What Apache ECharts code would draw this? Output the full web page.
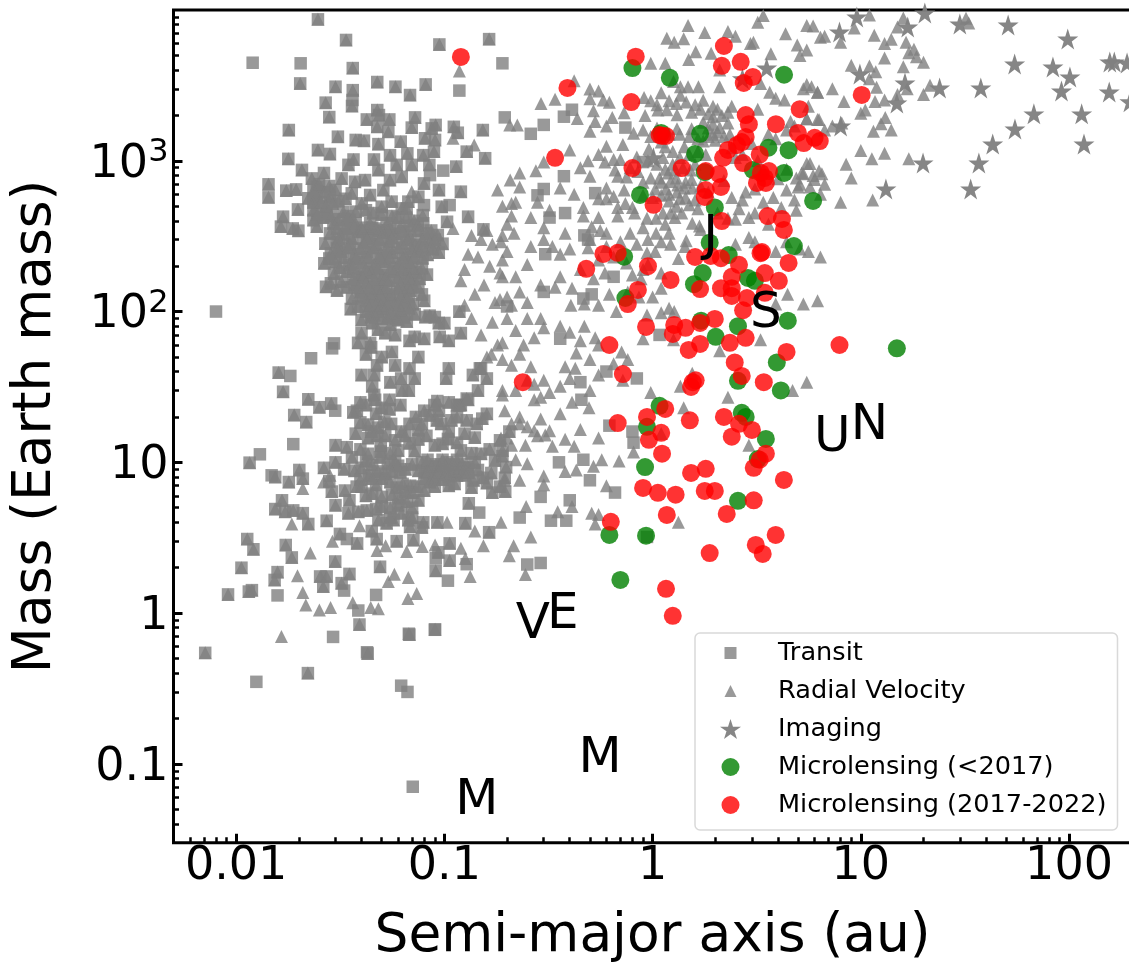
<!DOCTYPE html>
<html><head><meta charset="utf-8"><style>html,body{margin:0;padding:0;background:#fff}#c{width:1129px;height:966px}</style>
<script src="https://cdn.jsdelivr.net/npm/echarts@6/dist/echarts.min.js"></script></head><body><div id="c"></div><script>
// [semi-major axis (au), mass (Earth mass)]
const transitOnly=[[.012,4470],[.0204,4430],[.0362,2530],[.118,2920],[.19,4430],[.195,1940],[.26,1510],[.30,1730],[.375,1960],[.41,2180],[.74,1660],[.008,100],[.0988,860],[.0853,803],[.0798,508],[.106,508],[.0792,385],[.0295,61.5],[.0289,57],[.0229,49],[.0182,37.4],[.0299,22],[.0188,13.2],[.013,11.3],[.0148,8.2],[.0158,1.31],[.034,3.1],[.033,1.41],[.0909,2.31],[.104,1.64],[.128,2.11],[.147,4.64],[.047,1.32],[.0386,1.04],[.0292,.695],[.0125,.35],[.0705,.0705],[.062,.33],[.0665,.3],[.09,.775],[.0425,.55],[.375,790],[.30,650],[.28,590],[.53,610],[.47,320],[.49,300],[.32,420],[.38,450],[.305,240],[.65,170],[.30,135],[.2,108],[.465,122],[.51,130],[.36,66],[.45,34],[.455,26],[.6,40],[.84,36],[.62,17.5],[.80,16],[.81,13.5],[.465,10.4],[.355,10],[.5,7.6],[.66,6.3],[.29,5.9],[.4,5.6],[.23,4.3],[.325,4.1],[.385,4.1],[.25,2.1],[.29,2.15],[.94,3.2],[.9,980],[1.08,70]];
const bothMethods=[[.0247,8670],[.0337,6330],[.0363,4120],[.0203,3260],[.03,3100],[.0363,2940],[.036,2310],[.0476,3330],[.0582,3100],[.0684,2730],[.0813,3210],[.0946,5910],[.164,6410],[.0269,2430],[.028,1950],[.0476,2170],[.0485,2010],[.0424,1880],[.0544,1880],[.0723,1940],[.0697,1660],[.0908,1730],[.0869,1640],[.111,1680],[.116,1535],[.153,1600],[.0179,1600],[.0308,1445],[.0476,1680],[.0538,1560],[.0375,1375],[.0411,1360],[.0482,1290],[.0807,1410],[.0902,1375],[.128,1150],[.157,1040],[.0247,1180],[.0282,1110],[.0178,1030],[.0366,1020],[.0459,1020],[.0548,1090],[.0617,1340],[.0664,1120],[.0792,1090],[.0891,1150],[.0207,870],[.0264,830],[.0346,940],[.059,940],[.0697,940],[.0847,940],[.114,915],[.0321,764],[.0231,764],[.0372,726],[.0416,745],[.0482,870],[.0548,745],[.0624,783],[.0798,708],[.0143,698],[.0143,572],[.0174,634],[.0194,646],[.0942,640],[.12,624],[.0244,673],[.0244,578],[.0222,564],[.0282,578],[.0359,608],[.044,593],[.0509,640],[.075,578],[.0671,536],[.0558,536],[.0971,496],[.0198,476],[.0235,471],[.0235,405],[.0272,448],[.0327,459],[.0401,522],[.05,496],[.0624,483],[.0659,483],[.0787,436],[.103,394],[.13,426],[.0168,426],[.0164,366],[.0187,356],[.0199,344],[.154,351],[.0244,366],[.0293,385],[.0352,405],[.044,385],[.0528,385],
[.0282,330],[.033,325],[.0385,338],[.044,322],[.0505,335],[.058,328],[.0684,318],[.0815,330],[.093,322],[.0268,283],[.0305,290],[.0352,278],[.041,288],[.047,280],[.054,292],[.0625,284],[.0725,276],[.085,288],[.098,282],[.0285,243],[.032,250],[.037,240],[.0425,248],[.049,238],[.056,246],[.0645,240],[.0735,250],[.083,238],[.094,246],[.0265,209],[.03,214],[.035,205],[.04,212],[.046,204],[.052,215],[.06,208],[.068,212],[.0295,179],[.034,184],[.039,176],[.0445,182],[.0505,175],[.0575,184],[.065,178],[.073,182],[.0825,176],[.0285,154],[.032,158],[.037,150],[.042,156],[.048,150],[.054,160],[.0615,152],[.07,155],[.027,146],[.0305,138],[.0395,135],[.045,132],[.05,138],[.0555,130],[.0635,136],[.0685,138],[.078,130],[.036,122],[.042,118],[.047,115],[.052,120],[.058,112],[.064,116],[.0705,112],[.08,118],[.0355,104],[.042,100],[.046,95],[.051,105],[.056,98],[.062,102],[.072,96],[.081,92],[.09,92],[.118,100],[.10,84],[.04,88],[.045,84],[.05,90],[.055,82],[.06,88],[.066,86],[.072,68],[.085,94],[.04,72],[.048,76],[.052,72],[.058,70],[.0385,62],[.044,62],[.08,66],[.068,64],[.095,68],[.094,84],[.12,72],[.105,64],
[.0235,640],[.025,700],[.0265,620],[.028,680],[.03,640],[.0255,530],[.027,500],[.029,520],[.031,540],[.0335,560],[.0235,530],[.0245,440],[.0262,420],[.0285,430],[.031,410],[.0345,430],[.0375,460],[.042,470],[.0455,450],[.05,440],[.056,430],[.06,420],[.0655,420],[.0715,400],[.0335,370],[.0375,385],[.04,360],[.045,360],[.0485,345],[.055,355],[.0615,365],[.068,370],[.0745,375],[.0305,355],[.0355,355],[.0405,345],[.0465,355],[.0535,345],[.0635,340],[.075,345],[.0865,345],[.031,305],[.036,305],[.0425,305],[.049,300],[.056,308],[.0665,300],[.078,298],[.09,300],[.0305,262],[.0345,265],[.0395,262],[.0455,265],[.0525,262],[.06,265],[.069,262],[.078,268],[.088,260],[.028,225],[.0325,228],[.0375,225],[.043,228],[.0495,225],[.0545,228],[.063,225],[.0715,228],[.0785,226],[.0315,195],[.0365,195],[.042,192],[.048,195],[.055,195],[.0625,192],[.07,195],[.078,195],[.0365,165],[.0405,168],[.046,165],[.052,165],[.0595,168],[.068,166],[.076,165],[.034,145],[.0385,145],[.0435,145],[.0475,143],[.0525,145],[.0595,142],[.067,145],[.075,145],[.04,125],[.0445,125],[.0495,128],[.0545,125],[.0615,125],[.0675,126],[.0385,108],[.044,110],[.0495,110],[.0535,112],[.0605,110],[.0675,105],[.0445,92],[.048,100],[.0535,92],[.0585,90],[.064,92],
[.0445,58],[.056,54],[.05,50],[.058,44],[.042,52],[.0475,44],[.046,38],[.055,34],[.072,36],[.068,42],[.0675,30],[.0625,30],[.062,36],[.04,38],[.045,32],[.046,28],[.105,42],[.102,36],[.0942,22],[.075,50],[.105,25],[.12,24],[.145,30],[.148,42],[.15,42],[.16,36],[.137,38],[.13,26],[.128,26.5],[.118,24],
[.016,39.4],[.0168,29.4],[.0222,26.2],[.0251,23.2],[.0286,24.6],[.019,20.6],[.0217,18.5],[.0116,9.95],[.0154,8],[.0179,7.4],[.0201,8.9],[.0209,7.8],[.0264,9.2],[.0288,6.4],[.0333,6.5],[.0379,6.9],[.0166,5.6],[.0154,4.9],[.0172,4.7],[.0188,4.8],[.0209,4.6],[.0222,3.9],[.0272,4.1],[.0346,4.6],[.0386,4.7],[.0424,4.8],[.0315,3.35],[.0381,2.9],[.0473,3.1],[.0448,3.5],[.059,3],[.0113,3.1],[.0121,2.65],[.0173,2.83],[.0185,2.34],[.0106,2],[.0158,1.87],[.0153,1.66],[.00914,1.33],[.0115,1.39],[.0119,1.42],[.0253,1.75],[.0272,1.75],[.0262,1.5],[.0299,2.2],[.0321,1.58],[.035,1.82],[.0491,2.03],[.0391,.84],[.0679,.72],[.0902,.78],[.0071,.545],[.0428,.54],[.071,3.05],[.0936,2.53],[.106,2.9],[.106,2.23],[.0908,1.91],[.164,3.44],[.126,3.95],[.131,5.35],[.0792,4],[.0684,3.74],[.0671,4.14],[.0528,3.95],[.0482,4.15],[.057,4.15],[.0925,4],[.0221,.4],[.0675,.73],
[.036,10.8],[.0395,12.2],[.042,10.2],[.045,9.6],[.049,10.8],[.0535,9.8],[.058,10.2],[.037,8.8],[.04,9.2],[.0435,8.2],[.048,8.7],[.052,8.4],[.056,8.7],[.0615,8.6],[.0395,7.7],[.047,7.1],[.055,7.4],[.059,6.8],[.063,7.2],[.0685,7],[.074,6.9],[.045,6.2],[.05,5.9],[.056,6.1],[.061,5.8],[.066,5.5],[.06,5.2],[.055,5],[.07,5],[.075,5.6],[.081,8.6],[.078,10],[.083,10.4],[.087,9.4],[.091,9.7],[.095,9.3],[.1,8.9],[.105,8.8],[.11,8.4],[.115,8.2],[.12,8.6],[.126,8.2],[.092,8.3],[.098,10.4],[.103,10],[.11,9.7],[.115,10.4],[.122,9.8],[.13,9.3],[.138,7.6],[.145,8.9],[.153,7.9],[.16,7.3],[.168,8.5],[.085,7.4],[.09,6.9],[.105,7],[.112,7.2],[.135,6.8],[.17,6.3],[.185,6.9],[.195,7.9],[.196,6.4],[.185,14],[.19,12],[.205,16],[.075,14.2],[.082,15],[.09,13],[.098,13.3],[.104,14.3],[.115,13.5],[.125,15.5],[.14,14.6],[.15,11.4],[.165,12.2],[.175,10.3],[.19,11],[.198,9.3],[.068,13.4],[.072,11.9],[.062,16],[.065,15],[.075,16.4],[.0965,18],[.092,19],[.085,20.5],[.08,22],[.108,19],[.115,20],[.128,19],[.143,18],[.152,19.5],[.16,21],[.0895,24],[.0925,25.5],[.115,24],[.0495,11.8],[.0495,13],[.0475,15],[.048,17],[.0515,18.5],[.0555,18],[.0615,24],[.047,21],[.038,22],[.043,17.8],[.043,14.5],[.0445,16],[.05,23],[.0545,22.5],[.0365,21.5],[.042,24],[.0395,25],[.0465,26],[.0375,15.5],[.0395,18.4],[.0545,26],
[.06,9.5],[.065,9],[.07,9.7],[.075,8.8],[.083,8.8],[.088,8],[.094,8.6],[.1,9.6],[.107,9.3],[.112,8.8],[.118,9.2],[.125,9.1],[.13,8.6],[.105,8.1],[.098,7.7],[.09,7.7],[.08,7.8],[.065,6.4],[.07,6.3],[.08,6.5],[.05,7.8],[.045,7.8],[.04,6.9],[.042,6],[.05,5.1],[.047,4.9],[.062,4.6],[.07,4.3],[.055,4.3],[.078,3.7],[.035,5.6],[.03,5.2],[.028,7.5],[.033,9],[.03,10],[.034,12.6],[.03,13],[.043,11.4],[.055,11.5],[.06,12],[.058,14],[.052,15],[.068,18],[.073,20],[.078,18],[.105,16],[.12,12],[.135,11.5],[.14,10]];
const radialOnly=[[.118,3940],[.11,1410],[.139,1270],[.0697,624],[.11,356],[.42,3400],[.5,2990],[.55,2900],[.5,2580],[.58,2530],[.62,2440],[.52,2150],[.64,1940],[.435,1910],[.34,2560],[.291,2400],[.53,1820],[.5,1570],[.6,1700],[.224,1730],[.206,1730],[.81,1520],[.92,2000],[1.06,2170],[.73,2080],[.91,2630],[1.1,2830],[1.36,2720],[.98,4430],[1.15,4430],[1.17,6500],[1.27,6100],[1.41,6450],[1.48,7900],[1.78,7100],[2.3,7200],[2.5,6700],[1.91,5170],[1.61,5280],[1.49,4700],[3.2,8300],[3.4,9200],[5.5,7900],[4.35,6950],[6.4,6600],[4.95,5850],[5.5,5420],[5.1,5000],[3.7,5120],[3.05,6100],[2.95,6000],[2.1,4000],[2.1,3100],[1.48,3100],[1.66,3100],[1.36,3100],[1.26,3350],[3.3,3260],[3.65,2850],[3.9,2600],[4.3,2530],[5.3,3000],[6.2,2850],[5.6,2300],[4.6,1820],[5.5,1900],[6.3,1880],[6.7,1600],[3.2,2200],[2.4,2300],[2.3,2100],[1.95,2300],[1.75,2520],[1.54,2100],[1.31,2020],[1.17,2180],[1.95,1960],[1.75,1800],[2.1,1660],[2.3,1780],[1.54,1630],[1.31,1630],[2,1370],[2.4,1220],[.96,1200],[.84,1060],[1.15,1240],[1.42,1240],[.66,870],[.59,980],[.65,1020],[.7,1020],[.68,790],[.73,640],[1.08,770],[1.19,830],[1.3,770],[1.44,720],[1.54,750],[1.03,650],[1.16,650],[1.31,620],[1.44,570],[1.6,550],[1.2,540],[1.3,500],[1.12,450],[1.04,415],[.94,415],[.82,450],[.8,490],[.68,490],[.65,580],[.68,430],[.465,490],[.465,430],[.55,420],[.51,365],[.6,330],[.56,345],[.78,330],[1.04,330],[1.2,330],[1.45,295],[1.7,350],[2.5,410],[2.3,415],[2.9,420],[2.7,550],[3.4,530],[3.8,570],[4.15,490],[4.9,470],[2.4,570],[2.2,740],[5,670],[5.7,670],[6.5,820],[5.3,820],[4.9,770],[.216,330],[.187,290],[.19,220],[.32,470],[.4,260],[.36,240],[.33,270],[.25,205],[.49,1000],[.4,1180],[.3,980],[.275,860],[.23,830],[.207,745],[.23,670],[.36,660],[.28,530],[.49,265],[.52,165],[.59,180],[.88,165],[.8,175],[.95,205],[.84,280],[1.03,250],[.94,245],[1.33,225],[1.43,270],[1.55,385],[1.68,370],[.34,145],[.23,135],[.2,125],[.185,120],[.25,115],[.41,143],[.405,110],[.47,112],[.67,100],[1,125],[1.1,143],[.94,95],[1.2,105],[1.27,100],[1.1,98],[4.45,130],[5.3,112],[6.2,118],[3.9,112],[.3,78],[.36,80],[.47,80],
[5.9,7840],[6.7,6700],[8,6100],[9.3,7600],[11,9250],[11.6,6800],[13,6000],[14,6400],[16,8850],[15,7700],[16.5,6100],[18,5500],[17,5200],[18.5,4900],[20,4500],[13,4800],[11,4250],[11.8,3900],[9,4300],[11,3500],[11.9,3070],[16,4200],[13,2530],[15,2750],[11.7,2470],[20,2750],[21.5,3170],[16.7,3000],[7.3,3000],[6.2,2850],[5.5,3200],[5.8,3100],[8.3,2470],[10.5,2170],[10,2070],[5.5,1900],[6.2,1880],[7.3,1700],[8.1,1780],[13.1,1940],[12.5,1760],[11.5,1570],[14,1600],[10,1170],[13,1120],[11.3,1030],[17,1030],[8.5,950],[6.3,860],[5.9,800],[9,770],[6.7,700],[8,530],[11.4,550],[5.5,960],[5.2,830],[5.1,700],[32,8800],[33,8200],
[.27,67],[.4,73],[.45,64],[.53,67],[.43,53],[.5,48],[.76,48],[.71,54],[.9,66],[1.26,65],[2.1,55],[3.3,65],[.26,43],[.23,52],[.38,43],[.425,42],[.32,29],[.29,27],[.27,26],[.195,22],[.41,25],[.495,23],[.72,35],[.98,29],[1.36,32],[1.55,39],[2.3,27],[4.7,30],[5.5,34],[1.41,23],[.55,14.5],[.45,16.5],[.36,21],[.29,19.4],[.32,16.2],[.38,14.2],[.42,12.8],[.23,18],[.25,17.2],[.27,16.2],[.23,20],[.21,18],[.28,15],[.305,15.2],[.2,14.5],[.187,14.5],[.21,13],[.245,13],[.33,12.8],[.81,11.7],[1.1,15.5],[2.9,13],[.69,10.2],[.57,10.4],[.52,9.4],[.43,8.9],[.38,8.7],[.3,8.1],[.25,9.8],[.22,10.4],[.195,7.6],[.23,7.6],[.3,7.1],[.6,7],[.41,5.1],[.247,5.1],[.35,4.7],[.51,4.6],[.55,4.5],[.53,3.9],[1.33,4],[.26,3.2],[.215,2.8],[.205,2.4],[.245,1.8],[.187,4],
[.0165,.7],[.0185,3.9],[.029,3],[.0391,3.8],[.0522,2.8],[.0475,2.6],[.0227,2.5],[.0197,1.77],[.0209,1.37],[.0216,1.13],[.0251,1.05],[.0284,1.09],[.0363,1.17],[.0443,1.09],[.0482,1.07],[.0538,1.62],[.0575,1.81],[.0671,1.72],[.0736,1.35],[.0668,1.25],[.0659,2.56],[.0783,2.76],[.0902,2.83],[.12,2.69],[.126,2.3],[.133,1.75],[.154,2.8],[.14,3.5],[.103,4],[.0282,8.2],[.0263,7.4],[.0209,6.7],[.19,30],[.168,52],[.18,60],[.16,50],[.15,70],[.135,90],[.17,85],[.125,110],[.14,130],[.175,115],[.155,150],[.19,170],[.165,200],[.145,230],[.2,250],[.17,280],[.15,300],[.125,190],[.13,240],[.12,160],[.16,345],[.19,320],[.135,320],[.21,520],[.18,640],[.21,430],
[.98,2500],[1.05,2350],[1.2,2500],[1.3,2400],[1.45,2450],[1.6,2350],[1.7,2200],[1.85,2050],[2.05,2200],[2.15,2000],[1.85,1650],[1.95,1750],[2.05,1550],[1.95,1500],[2.2,1450],[2.35,1500],[1.85,1450],[1.75,1350],[1.65,1400],[1.5,1450],[1.35,1500],[1.2,1500],[1.05,1650],[.9,1600],[.98,1450],[1.1,1330],[1.25,1150],[1.35,1050],[1.5,1100],[1.65,1150],[1.8,1100],[2.5,1050],[2.7,1100],[3,1300],[3.6,1500],[3.9,1400],[4.4,1600],[4.8,1700],[.95,1000],[1.05,950],[1.12,1050],[1.25,950],[1.15,880],[1.28,870],[1.4,900],[1.52,870],[1.6,950],[1.1,720],[1.22,730],[1.32,690],[1.42,660],[1.55,660],[1.7,680],[1.85,620],[.9,720],[.98,770],[.85,850],[.78,900],[.75,780],[.9,590],[1,570],[1.1,590],[1.2,600],[1.35,560],[1.5,510],[1.65,480],[1.38,450],[1.22,450],[1.28,420],[1.15,380],[.9,360],[.95,300],[1.1,290],[1.22,280],[2.05,450],[2.6,480],[2.8,620],[3.1,650],[3.1,450],[3.6,380],[4.4,640],[4.8,550],[3.2,1000],[3.4,870],[4,760],[4.4,880],[5.7,960],[6,750],[6.4,600],[2.5,280],[2.9,310],[3.1,290],[3.9,250],[4.4,290],[5.1,260],[5.6,250],[6.4,230],[.6,1250],[.72,1280],[.55,1100],[.45,900],[.5,790],[.6,660],[.55,560],[.74,520],[.6,560],[.42,600],[.5,300],[.38,330],[.3,360],[.26,420],[.22,530],[.19,500],[.3,300],[.26,270],[.2,380],[.185,180],[.22,170],[.29,150],[.36,170],[.45,190],[.55,220],[.65,230],[.75,210],[.7,290],[.6,270],[.9,190],[1.1,180],[.76,135],[.86,125],[.62,130],[.55,110],[.25,35],[.3,35],[.22,30],[.19,28],[.27,33],[.36,32],[.4,36],[.5,30],[.55,38],[.65,45],[.55,60],[.25,90],[.22,75],[.19,62],[.19,48],[.21,44],[.29,90],[.21,110],[.2,90],[.24,60]];
const imaging=[[9.57,8990],[20.3,9550],[7.9,7150],[16.8,7720],[29.9,8080],[51,7950],[98.6,6420],[54.8,4385],[83.7,4190],[101,3600],[92,2900],[157,4520],[165,4520],[156,2860],[196,2460],[190,4450],[37.7,3040],[23.9,3040],[16.3,3280],[14.9,2420],[9.9,3770],[67.8,2047],[55,1623],[115,2047],[43,1290],[118,1290],[36.9,967],[19.9,967],[33.7,650],[13.2,650],[8,1700],[3.53,4120],[1.01,1047],[2.7,3500]];
const microlensingOld=[[.8,4120],[1.21,3550],[4.28,3720],[1.1,1530],[1.69,1510],[1.6,1110],[3.6,1220],[4.5,1175],[3.03,870],[4.28,830],[1.78,840],[.87,594],[5.9,542],[1.99,490],[4.77,272],[1.88,286],[.73,231],[2.32,237],[1.74,180],[1.58,152],[2.87,167],[3.1,160],[.74,123],[4.46,87],[1.71,87],[2.57,80],[2.01,68],[3.95,46],[14.9,57],[2.57,34.7],[4.13,30],[1.08,23.7],[.94,17.2],[2.68,21.3],[2.8,20],[3.5,14.3],[3.2,10.5],[.92,9.3],[2.57,5.55],[.62,3.3],[.93,3.26],[.7,1.66]];
const microlensingNew=[[.12,4880],[.83,4900],[2.2,5770],[2.15,4260],[2.65,4530],[3.03,3600],[2.74,3280],[.39,3040],[.79,2450],[5.09,2200],[2.8,2010],[2.9,1750],[3.91,1750],[4.99,1530],[1.08,1480],[1.16,1460],[1.11,1460],[2.8,1440],[6,1420],[6.35,1350],[5.32,1310],[2.68,1330],[2.54,1270],[2.3,1180],[.34,1047],[3.27,1100],[2.18,1047],[2.72,966],[.8,895],[1.38,895],[1.8,855],[2.08,818],[3.62,855],[3.31,830],[3.46,770],[3.17,713],[3.5,713],[2.13,670],[1.8,640],[1.78,575],[1.01,510],[2.15,398],[3.57,430],[4.18,411],[4.27,348],[3.35,248],[3.3,244],[.58,241],[.68,245],[.48,192],[.95,200],[1.6,230],[1.9,234],[2.13,226],[4.5,210],[2.6,204],[3.46,180],[1.22,162],[2.4,170],[4.04,160],[.85,139],[1.69,141],[2.13,143],[2.4,143],[2.4,127],[2.84,123],[3.46,133],[.76,112],[2.72,102],[1.99,89.4],[.93,79],[1.27,81.5],[1.69,84],[1.44,78],[1.25,71],[.62,60],[1.69,61],[1.49,55.6],[2.35,62],[2.8,67],[4.4,54],[7.9,60],[2.48,46],[2.68,37.4],[3.42,34],[1.61,35],[1.53,31.6],[1.56,34],[.72,38.5],[.238,34],[1.15,22.6],[.94,20],[1.51,19],[2.2,20],[2.6,18],[3,16.4],[.68,18.2],[1.1,15.7],[.96,14.1],[2.4,14.8],[1.11,11.4],[3.5,11.4],[3.27,10.4],[3.06,9.2],[1.8,9.06],[1.53,8.5],[4.27,7.64],[.9,6.76],[1.06,6.28],[1.29,6.1],[1.78,6.46],[1.99,6.46],[3.06,5.6],[1.17,4.48],[2.27,4.55],[.63,4.03],[3.9,3.3],[3.13,2.83],[3.38,2.47],[1.88,2.5],[1.16,1.45],[1.25,.96],[10.1,2735]];
const solarPlanets=[['M',.143,.057],['M',.56,.107],['V',.266,.835],['E',.37,.97],['J',1.9,310],['S',3.5,97],['U',7.3,14.5],['N',11,17.5]];
const xMajorTicks=[.01,.1,1,10,100];
const xMinorTicks=[.006,.007,.008,.009,.02,.03,.04,.05,.06,.07,.08,.09,.2,.3,.4,.5,.6,.7,.8,.9,2,3,4,5,6,7,8,9,20,30,40,50,60,70,80,90,200];
const yMajorTicks=[.1,1,10,100,1000];
const yMinorTicks=[.04,.05,.06,.07,.08,.09,.2,.3,.4,.5,.6,.7,.8,.9,2,3,4,5,6,7,8,9,20,30,40,50,60,70,80,90,200,300,400,500,600,700,800,900,2000,3000,4000,5000,6000,7000,8000,9000];
const yTickText={0.1:'0.1',1:'1',10:'10',100:'{n|10}{s|2}',1000:'{n|10}{s|3}'};
const xTickText={0.01:'0.01',0.1:'0.1',1:'1',10:'10',100:'100'};

const font='"DejaVu Sans"';
const STAR='M50 0L61.8 36.3L100 36.3L69.1 58.8L80.9 95.1L50 72.6L19.1 95.1L30.9 58.8L0 36.3L38.2 36.3Z';
const pad='M0 0L0 0M21 21L21 21';
const icons={
 sq:'path://'+pad+'M4.5 4.5L16.5 4.5L16.5 16.5L4.5 16.5Z',
 tri:'path://'+pad+'M10.5 4.5L16.5 16.5L4.5 16.5Z',
 star:'path://'+STAR,
 circ:'path://'+pad+'M1.5 10.5A9 9 0 1 1 19.5 10.5A9 9 0 1 1 1.5 10.5Z'
};
const tickX=(vals,len,w,extra)=>Object.assign({type:'log',logBase:10,min:.005,max:200,position:'bottom',splitLine:{show:false},minorTick:{show:false},minorSplitLine:{show:false},
 axisLine:{show:false},axisTick:{show:true,inside:true,length:len,customValues:vals,lineStyle:{color:'#000',width:w}},axisLabel:{show:false}},extra||{});
const tickY=(vals,len,w,extra)=>Object.assign({type:'log',logBase:10,min:.03,max:10000,position:'left',splitLine:{show:false},minorTick:{show:false},minorSplitLine:{show:false},
 axisLine:{show:false},axisTick:{show:true,inside:true,length:len,customValues:vals,lineStyle:{color:'#000',width:w}},axisLabel:{show:false}},extra||{});
const nameStyle={fontFamily:font,fontSize:53.4,color:'#000'};
const chart=echarts.init(document.getElementById('c'),null,{renderer:'canvas'});
chart.setOption({
 animation:false,backgroundColor:'#fff',
 grid:{show:true,left:173.5,top:10,width:958.2,height:832.7,borderColor:'#000',borderWidth:3,backgroundColor:'transparent',outerBoundsMode:'none'},
 legend:{orient:'vertical',left:695,top:633,padding:[7,11,12,25],itemGap:12,itemWidth:21,itemHeight:21,
  backgroundColor:'rgba(255,255,255,.8)',borderColor:'#d9d9d9',borderWidth:1.5,borderRadius:5,
  textStyle:{fontFamily:font,fontSize:25.6,lineHeight:21,color:'#000',padding:[0,0,0,32]},
  data:[{name:'Transit',icon:icons.sq},{name:'Radial Velocity',icon:icons.tri},{name:'Imaging',icon:icons.star},{name:'Microlensing (<2017)',icon:icons.circ},{name:'Microlensing (2017-2022)',icon:icons.circ}]},
 xAxis:[tickX(xMajorTicks,9,3,{name:'Semi-major axis (au)',nameLocation:'middle',nameGap:68,nameTextStyle:nameStyle,
   axisLabel:{show:true,customValues:xMajorTicks,fontFamily:font,fontSize:46,color:'#000',margin:1,formatter:v=>xTickText[+(+v).toPrecision(3)]||''}}),
  tickX(xMinorTicks,5.5,2.5)],
 yAxis:[tickY(yMajorTicks,9,3,{name:'Mass (Earth mass)',nameLocation:'middle',nameGap:111,nameTextStyle:nameStyle,
   axisLabel:{show:true,customValues:yMajorTicks,fontFamily:font,fontSize:46,color:'#000',margin:5,padding:[8,0,0,0],
    rich:{n:{fontFamily:font,fontSize:46,color:'#000'},s:{fontFamily:font,fontSize:32,color:'#000',padding:[0,0,24,0]}},
    formatter:v=>yTickText[+(+v).toPrecision(3)]||''}}),
  tickY(yMinorTicks,5.5,2.5)],
 series:[
  {name:'Transit',type:'scatter',symbol:'rect',symbolSize:12.5,itemStyle:{color:'gray',opacity:.8},data:transitOnly.concat(bothMethods),z:2},
  {name:'Radial Velocity',type:'scatter',symbol:'triangle',symbolSize:13,itemStyle:{color:'gray',opacity:.8},data:radialOnly.concat(bothMethods),z:3},
  {name:'Imaging',type:'scatter',symbol:'path://'+STAR,symbolSize:21,itemStyle:{color:'gray',opacity:.95},data:imaging,z:4},
  {name:'Microlensing (<2017)',type:'scatter',symbol:'circle',symbolSize:18,itemStyle:{color:'green',opacity:.8},data:microlensingOld,z:5},
  {name:'Microlensing (2017-2022)',type:'scatter',symbol:'circle',symbolSize:18,itemStyle:{color:'red',opacity:.8},data:microlensingNew,z:6},
  {name:'Solar system',type:'scatter',symbolSize:.01,itemStyle:{color:'#000',opacity:1},z:7,silent:true,
   data:solarPlanets.map(p=>({name:p[0],value:[p[1],p[2]]})),
   label:{show:true,position:'inside',opacity:1,formatter:'{b}',fontFamily:font,fontSize:50,color:'#000',textBorderWidth:0}}
 ]
});
</script></body></html>
